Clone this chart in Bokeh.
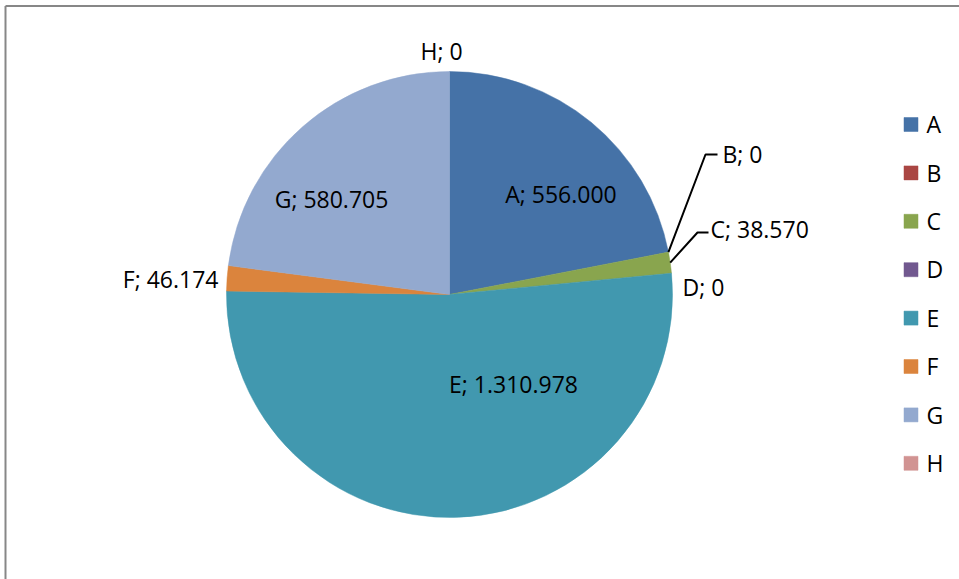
import math
from bokeh.plotting import figure
from bokeh.models import Range1d
from bokeh.embed import file_html
from bokeh.resources import INLINE
from bokeh.core.properties import value

# ---- data ----
categories = ["A", "B", "C", "D", "E", "F", "G", "H"]
values = [556000, 0, 38570, 0, 1310978, 46174, 580705, 0]
colors = ["#4572A7", "#AA4643", "#89A54E", "#71588F", "#4198AF", "#DB843D", "#93A9CF", "#D19392"]

# ---- layout (picture pixel coordinates) ----
W, H = 959, 579
CX, CY, R = 449, 294, 223
FONT = value("Open Sans")
FS = "23px"
TXT_SHIFT = -8.5   # renderer baseline correction
# label anchor: (x, baseline y, align)
label_pos = {
    "A": (560.5, 202, "center"),
    "B": (722, 162, "left"),
    "C": (710, 237, "left"),
    "D": (682, 295, "left"),
    "E": (513, 392, "center"),
    "F": (218, 287, "right"),
    "G": (331, 207, "center"),
    "H": (441, 59, "center"),
}
leader_elbow = {
    "B": [(705, 154), (717, 154)],
    "C": [(697, 232), (708, 232)],
}
legend_x, legend_y0, legend_step = 910.5, 124, 48.4

p = figure(width=W, height=H,
           x_range=Range1d(0, W), y_range=Range1d(-H, 0),
           output_backend="svg", toolbar_location=None, min_border=0,
           x_axis_type=None, y_axis_type=None)
p.outline_line_color = None
p.background_fill_color = "white"
p.border_fill_color = "white"

# chart border (top and left visible)
p.line(x=[5, 5], y=[-H, -5.5], line_color="#878787", line_width=2)
p.line(x=[5, W], y=[-5.5, -5.5], line_color="#878787", line_width=2)

# wedges
total = float(sum(values))
cum = 0.0
starts, ends, mids = [], [], []
for v in values:
    a0 = cum / total * 2 * math.pi
    cum += v
    a1 = cum / total * 2 * math.pi
    starts.append(math.pi / 2 - a0)
    ends.append(math.pi / 2 - a1)
    mids.append((a0 + a1) / 2)

idx = [i for i, v in enumerate(values) if v > 0]
p.wedge(x=CX, y=-CY, radius=R,
        start_angle=[starts[i] for i in idx], end_angle=[ends[i] for i in idx],
        direction="clock",
        fill_color=[colors[i] for i in idx], line_color=[colors[i] for i in idx],
        line_width=0.5)

# leader lines
xs, ys = [], []
for i, c in enumerate(categories):
    if c in leader_elbow:
        a = mids[i]
        sx = CX + R * math.sin(a)
        sy = CY - R * math.cos(a)
        pts = [(sx, sy)] + leader_elbow[c]
        xs.append([q[0] for q in pts])
        ys.append([-q[1] for q in pts])
p.multi_line(xs=xs, ys=ys, line_color="black", line_width=2)

# data labels
def fmt(v):
    return format(v, ",").replace(",", ".")

for align in ("left", "center", "right"):
    sel = [i for i, c in enumerate(categories) if label_pos[c][2] == align]
    if not sel:
        continue
    p.text(x=[label_pos[categories[i]][0] for i in sel],
           y=[-(label_pos[categories[i]][1] + TXT_SHIFT) for i in sel],
           text=[f"{categories[i]}; {fmt(values[i])}" for i in sel],
           text_font=FONT, text_font_size=FS, text_align=align,
           text_baseline="alphabetic", text_color="#000000")

# legend
ly = [legend_y0 + k * legend_step for k in range(len(categories))]
p.rect(x=[legend_x] * len(categories), y=[-y for y in ly], width=14, height=14,
       fill_color=colors, line_color=colors, line_width=0.5)
p.text(x=[legend_x + 15.5] * len(categories), y=[-(y + 8.2 + TXT_SHIFT) for y in ly], text=categories,
       text_font=FONT, text_font_size=FS, text_align="left",
       text_baseline="alphabetic", text_color="#000000")

open("out.html", "w").write(file_html(p, INLINE))
